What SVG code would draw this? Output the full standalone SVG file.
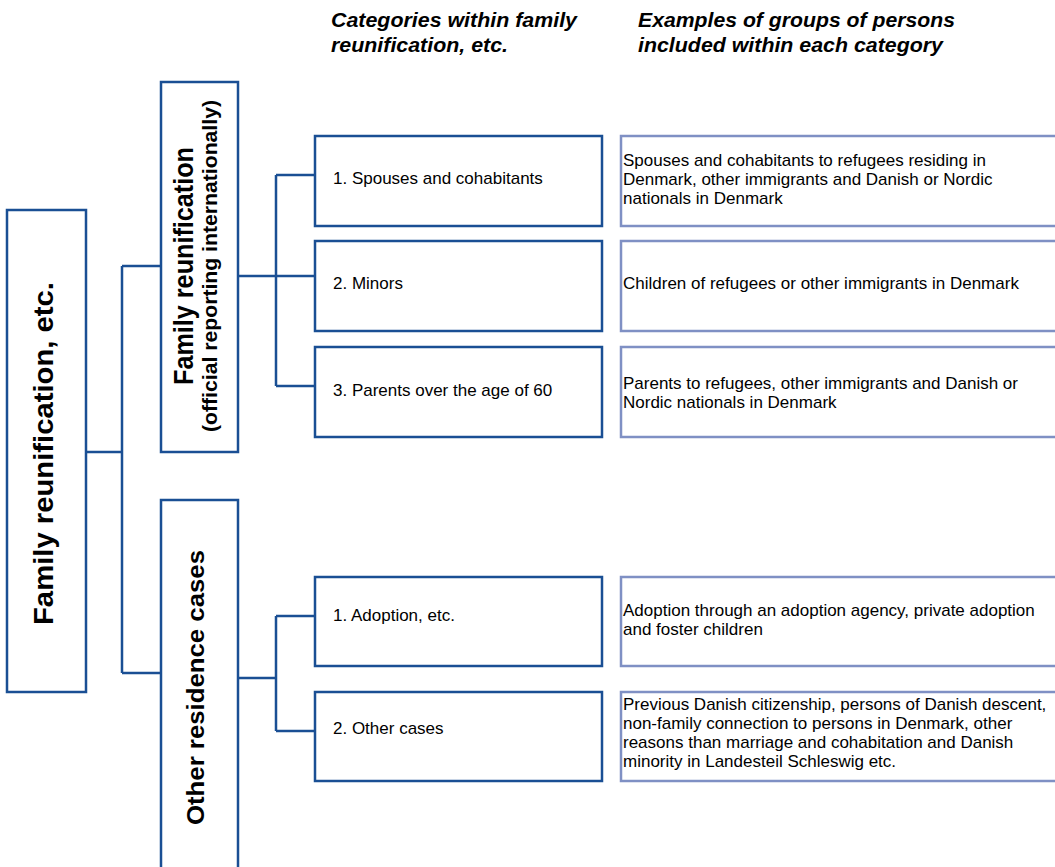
<svg xmlns="http://www.w3.org/2000/svg" width="1055" height="867" viewBox="0 0 1055 867">
  <style>
    .box { fill: #ffffff; stroke: #1a4f94; stroke-width: 2.5; }
    .ex { fill: #ffffff; stroke: #7f90c4; stroke-width: 2.5; }
    .link { fill: none; stroke: #1a4f94; stroke-width: 2.5; }
    .head { font-family: "Liberation Sans", Arial, sans-serif; font-size: 20.5px; font-weight: bold; font-style: italic; fill: #000; }
    .cat { font-family: "Liberation Sans", Arial, sans-serif; font-size: 17px; fill: #000; }
    .big { font-family: "Liberation Sans", Arial, sans-serif; font-weight: bold; fill: #000; text-anchor: middle; }
  </style>

  <!-- column headings -->
  <g id="headings">
    <text class="head" x="331" y="27" textLength="246" lengthAdjust="spacingAndGlyphs">Categories within family</text>
    <text class="head" x="331" y="52" textLength="177" lengthAdjust="spacingAndGlyphs">reunification, etc.</text>
    <text class="head" x="638" y="27" textLength="317" lengthAdjust="spacingAndGlyphs">Examples of groups of persons</text>
    <text class="head" x="638" y="52" textLength="305" lengthAdjust="spacingAndGlyphs">included within each category</text>
  </g>

  <!-- tree connectors -->
  <g id="connectors">
    <path class="link" d="M86 452 H122 M122 266 V673 M122 266 H161 M122 673 H161"/>
    <path class="link" d="M238 276 H276 M276 175 V386 M276 175 H315 M276 276 H315 M276 386 H315"/>
    <path class="link" d="M238 678 H276 M276 616 V731 M276 616 H315 M276 731 H315"/>
  </g>

  <!-- root -->
  <g id="root">
    <rect class="box" x="7" y="210" width="79" height="482"/>
    <text class="big" font-size="28" textLength="343" lengthAdjust="spacingAndGlyphs" transform="translate(53 453.5) rotate(-90)">Family reunification, etc.</text>
  </g>

  <!-- branch: family reunification -->
  <g id="family-reunification">
    <rect class="box" x="161" y="82" width="77" height="370"/>
    <text class="big" font-size="28" textLength="238" lengthAdjust="spacingAndGlyphs" transform="translate(193 266) rotate(-90)">Family reunification</text>
    <text class="big" font-size="21" textLength="332" lengthAdjust="spacingAndGlyphs" transform="translate(217 266) rotate(-90)">(official reporting internationally)</text>
  </g>

  <!-- branch: other residence cases -->
  <g id="other-residence">
    <rect class="box" x="161" y="500" width="77" height="380"/>
    <text class="big" font-size="24" textLength="275" lengthAdjust="spacingAndGlyphs" transform="translate(203.5 687.5) rotate(-90)">Other residence cases</text>
  </g>

  <!-- categories -->
  <g id="cat-spouses">
    <rect class="box" x="315" y="136" width="287" height="90"/>
    <text class="cat" x="333" y="184">1. Spouses and cohabitants</text>
  </g>
  <g id="cat-minors">
    <rect class="box" x="315" y="241" width="287" height="90"/>
    <text class="cat" x="333" y="289">2. Minors</text>
  </g>
  <g id="cat-parents">
    <rect class="box" x="315" y="347" width="287" height="90"/>
    <text class="cat" x="333" y="396">3. Parents over the age of 60</text>
  </g>
  <g id="cat-adoption">
    <rect class="box" x="315" y="577" width="287" height="89"/>
    <text class="cat" x="333" y="621">1. Adoption, etc.</text>
  </g>
  <g id="cat-other">
    <rect class="box" x="315" y="692" width="287" height="89"/>
    <text class="cat" x="333" y="734">2. Other cases</text>
  </g>

  <!-- examples -->
  <g id="ex-spouses">
    <rect class="ex" x="621" y="136" width="450" height="90"/>
    <text class="cat" x="623" y="166">Spouses and cohabitants to refugees residing in</text>
    <text class="cat" x="623" y="185">Denmark, other immigrants and Danish or Nordic</text>
    <text class="cat" x="623" y="204">nationals in Denmark</text>
  </g>
  <g id="ex-minors">
    <rect class="ex" x="621" y="241" width="450" height="90"/>
    <text class="cat" x="623" y="289">Children of refugees or other immigrants in Denmark</text>
  </g>
  <g id="ex-parents">
    <rect class="ex" x="621" y="347" width="450" height="90"/>
    <text class="cat" x="623" y="389">Parents to refugees, other immigrants and Danish or</text>
    <text class="cat" x="623" y="408">Nordic nationals in Denmark</text>
  </g>
  <g id="ex-adoption">
    <rect class="ex" x="621" y="577" width="450" height="89"/>
    <text class="cat" x="623" y="616">Adoption through an adoption agency, private adoption</text>
    <text class="cat" x="623" y="635">and foster children</text>
  </g>
  <g id="ex-other">
    <rect class="ex" x="621" y="692" width="450" height="89"/>
    <text class="cat" x="623" y="710">Previous Danish citizenship, persons of Danish descent,</text>
    <text class="cat" x="623" y="729">non-family connection to persons in Denmark, other</text>
    <text class="cat" x="623" y="748">reasons than marriage and cohabitation and Danish</text>
    <text class="cat" x="623" y="767">minority in Landesteil Schleswig etc.</text>
  </g>
</svg>
